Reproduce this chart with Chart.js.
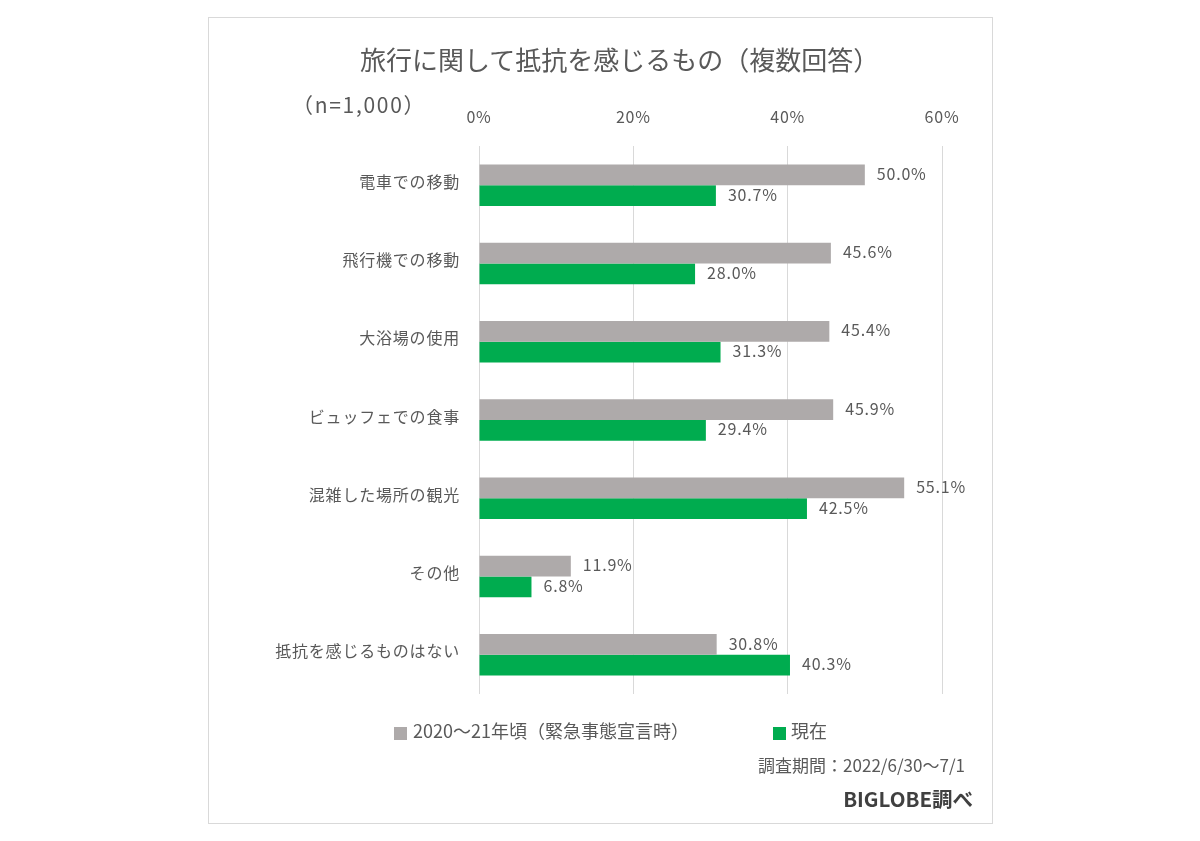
<!DOCTYPE html>
<html lang="ja">
<head>
<meta charset="utf-8">
<title>旅行に関して抵抗を感じるもの</title>
<script src="https://cdn.jsdelivr.net/npm/chart.js@4/dist/chart.umd.min.js"></script>
<style>
  html, body { margin: 0; padding: 0; background: #fff; }
  body { width: 1200px; height: 841px; position: relative; overflow: hidden; font-family: "Noto Sans CJK JP", sans-serif; color: #595959; }
  canvas { position: absolute; left: 0; top: 0; }
  #frame { position: absolute; left: 208px; top: 17px; width: 783px; height: 805px; border: 1px solid #d9d9d9; }
  .txt { position: absolute; white-space: nowrap; line-height: 1; }
  #title { left: 360px; top: 46px; font-size: 26px; }
  #sample { left: 292px; top: 94px; font-size: 21px; letter-spacing: 1.7px; }
  .box { position: absolute; width: 13px; height: 13px; top: 727px; }
  .leg { top: 721px; font-size: 18px; }
  #period { right: 235px; top: 756px; font-size: 17px; }
  #source { right: 227px; top: 788px; font-size: 20.5px; font-weight: 700; color: #404040; }
</style>
</head>
<body>
<div id="frame"></div>
<canvas id="chart" width="1200" height="841"></canvas>
<div class="txt" id="title">旅行に関して抵抗を感じるもの（複数回答）</div>
<div class="txt" id="sample">（n=1,000）</div>
<div class="box" style="left:394px;background:#aeaaaa"></div>
<div class="txt leg" style="left:413px">2020～21年頃（緊急事態宣言時）</div>
<div class="box" style="left:773px;background:#00ac4f"></div>
<div class="txt leg" style="left:791px">現在</div>
<div class="txt" id="period">調査期間：2022/6/30～7/1</div>
<div class="txt" id="source">BIGLOBE調べ</div>
<script>
const categories = ['電車での移動', '飛行機での移動', '大浴場の使用', 'ビュッフェでの食事', '混雑した場所の観光', 'その他', '抵抗を感じるものはない'];
const pastValues = [50.0, 45.6, 45.4, 45.9, 55.1, 11.9, 30.8];
const nowValues = [30.7, 28.0, 31.3, 29.4, 42.5, 6.8, 40.3];
const xTicks = [0, 20, 40, 60];

const fontFamily = '"Noto Sans CJK JP", sans-serif';
const textColor = '#595959';

// the reference text is a bit wider than Noto, so space it out
const textSpacing = {
    id: 'textSpacing',
    beforeDraw(chart) {
        chart.ctx.letterSpacing = '0.8px';
    }
};

// puts the value next to the end of each bar
const valueLabels = {
    id: 'valueLabels',
    afterDatasetsDraw(chart) {
        const ctx = chart.ctx;
        ctx.save();
        ctx.font = `16px ${fontFamily}`;
        ctx.fillStyle = textColor;
        ctx.textAlign = 'left';
        ctx.textBaseline = 'middle';
        chart.data.datasets.forEach((ds, i) => {
            chart.getDatasetMeta(i).data.forEach((bar, j) => {
                ctx.fillText(ds.data[j].toFixed(1) + '%', bar.x + 12, bar.y - 1);
            });
        });
        ctx.restore();
    }
};

new Chart(document.getElementById('chart'), {
    type: 'bar',
    data: {
        labels: categories,
        datasets: [
            { label: '2020～21年頃（緊急事態宣言時）', data: pastValues, backgroundColor: '#aeaaaa' },
            { label: '現在', data: nowValues, backgroundColor: '#00ac4f' }
        ]
    },
    options: {
        indexAxis: 'y',
        responsive: false,
        animation: false,
        categoryPercentage: 0.53,
        barPercentage: 1,
        layout: { padding: { left: 0, right: 258, top: 0, bottom: 147 } },
        plugins: { legend: { display: false }, title: { display: false }, tooltip: { enabled: false } },
        scales: {
            x: {
                position: 'top',
                min: 0,
                max: 60,
                afterFit: (s) => { s.height = 146; },
                afterBuildTicks: (s) => { s.ticks = xTicks.map(v => ({ value: v })); },
                grid: { color: '#d9d9d9', drawTicks: false },
                border: { display: false },
                ticks: { padding: 19, color: textColor, font: { family: fontFamily, size: 16 }, maxRotation: 0, callback: (v) => v + '%' }
            },
            y: {
                afterFit: (s) => { s.width = 479; },
                grid: { display: false, drawTicks: false },
                border: { display: false },
                ticks: { padding: 19, labelOffset: -3.5, color: textColor, font: { family: fontFamily, size: 16 } }
            }
        }
    },
    plugins: [textSpacing, valueLabels]
});
</script>
</body>
</html>
